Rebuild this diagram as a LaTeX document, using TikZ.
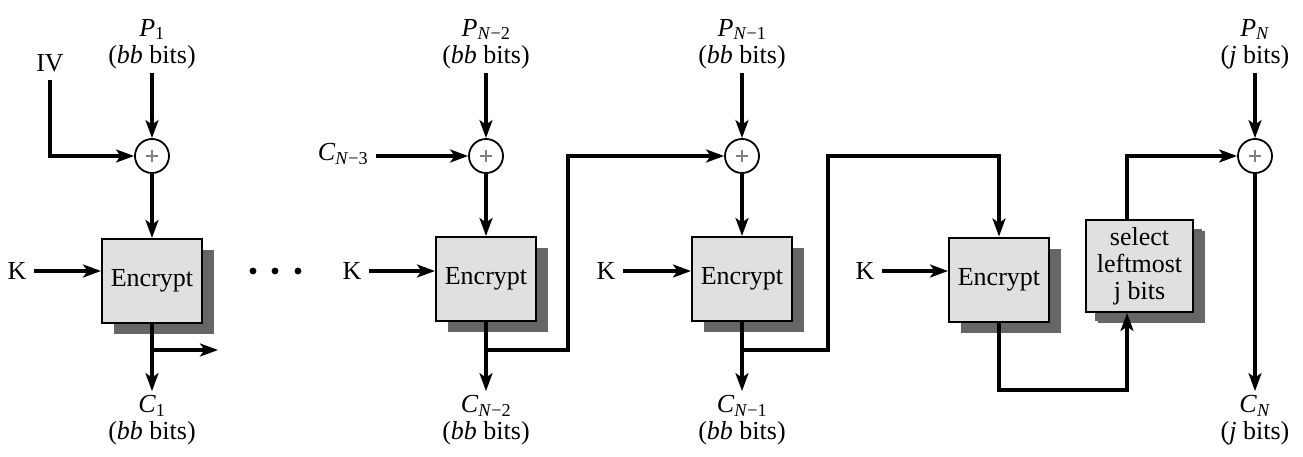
\documentclass[tikz,border=0pt]{standalone}
\usepackage{fontspec}
\setmainfont{Liberation Serif}
\usetikzlibrary{arrows.meta,shadows}
\definecolor{boxgray}{gray}{0.88}
\definecolor{shadowgray}{gray}{0.40}
\newcommand\lbl[2]{\textit{#1}\textsubscript{#2}}
\begin{document}
\begin{tikzpicture}[x=1pt,y=-1pt,
  font=\fontsize{26}{27}\selectfont,
  line width=3.1pt,
  arr/.style={-{Stealth[length=18pt,width=13pt,inset=4.5pt]}},
  encbox/.style={draw, line width=2pt, fill=boxgray, minimum width=100pt,
    minimum height=84pt, inner sep=0pt,
    drop shadow={shadow xshift=12pt, shadow yshift=-11pt, fill=shadowgray, opacity=1}},
  xorc/.style={circle, draw, line width=1.8pt, minimum size=34pt, inner sep=0pt,
    path picture={\draw[gray,line width=1.2pt]
      (path picture bounding box.center) +(-6pt,0pt) -- +(6pt,0pt)
      (path picture bounding box.center) +(0pt,-6pt) -- +(0pt,6pt);}},
  lab/.style={align=center, inner sep=0pt, outer sep=4pt},
  klab/.style={inner sep=0pt, outer sep=8pt},
]
\useasboundingbox (0,0) rectangle (1303,457);

% boxes
\node[encbox] (e1) at (152,281) {Encrypt};
\node[encbox] (e2) at (486,279) {Encrypt};
\node[encbox] (e3) at (742,279) {Encrypt};
\node[encbox] (e4) at (999,279.5) {Encrypt};
\node[encbox, minimum width=107pt, minimum height=92pt, align=center,
  drop shadow={shadow xshift=9pt, shadow yshift=-9pt, fill=shadowgray, opacity=1}]
  (sel) at (1139.5,266) {select\\leftmost\\j bits};

% xors
\node[xorc] (x1) at (152,156) {};
\node[xorc] (x2) at (486,156) {};
\node[xorc] (x3) at (742,156) {};
\node[xorc] (x4) at (1255,156) {};

% labels
\node[lab] (p1) at (152,44) {\lbl{P}{1}\\(\textit{bb} bits)};
\node[lab] (p2) at (486,44) {\lbl{P}{\textit{N}−2}\\(\textit{bb} bits)};
\node[lab] (p3) at (742,44) {\lbl{P}{\textit{N}−1}\\(\textit{bb} bits)};
\node[lab] (p4) at (1255,44) {\lbl{P}{\textit{N}}\\(\textit{j} bits)};
\node[lab] (c1) at (152,420) {\lbl{C}{1}\\(\textit{bb} bits)};
\node[lab] (c2) at (486,420) {\lbl{C}{\textit{N}−2}\\(\textit{bb} bits)};
\node[lab] (c3) at (742,420) {\lbl{C}{\textit{N}−1}\\(\textit{bb} bits)};
\node[lab] (c4) at (1255,420) {\lbl{C}{\textit{N}}\\(\textit{j} bits)};
\node[inner sep=0pt, outer sep=8pt] (iv) at (50,63) {IV};
\node[klab] (cn3) at (343,154) {\lbl{C}{\textit{N}−3}};
\node[klab] (k1) at (17,271) {K};
\node[klab] (k2) at (352,271) {K};
\node[klab] (k3) at (606,271) {K};
\node[klab] (k4) at (865,271) {K};

% dots
\fill (253,271) circle (3.4pt);
\fill (275,271) circle (3.4pt);
\fill (298,271) circle (3.4pt);

% coordinates
\coordinate (b1) at (152,350);
\coordinate (o1) at (218,350);
\coordinate (b2) at (486,350);
\coordinate (t2) at (568,156);
\coordinate (b3) at (742,350);
\coordinate (t3) at (828,156);
\coordinate (r4) at (1127,390);

% block 1
\draw[arr] (p1) -- (x1);
\draw[arr] (iv) |- (x1);
\draw[arr] (x1) -- (e1);
\draw[arr] (k1) -- (k1 -| e1.west);
\draw[arr] (e1) -- (c1);
\draw[arr] (b1) -- (o1);

% block 2
\draw[arr] (p2) -- (x2);
\draw[arr] (cn3.east |- x2) -- (x2);
\draw[arr] (x2) -- (e2);
\draw[arr] (k2) -- (k2 -| e2.west);
\draw[arr] (e2) -- (c2);
\draw[arr] (b2) -| (t2) -- (x3);

% block 3
\draw[arr] (p3) -- (x3);
\draw[arr] (x3) -- (e3);
\draw[arr] (k3) -- (k3 -| e3.west);
\draw[arr] (e3) -- (c3);
\draw[arr] (b3) -| (t3) -| (e4);

% block 4
\draw[arr] (k4) -- (k4 -| e4.west);
\draw[arr] (e4) |- (r4) -- (r4 |- sel.south);
\draw[arr] (sel.north -| r4) |- (x4);
\draw[arr] (p4) -- (x4);
\draw[arr] (x4) -- (c4);
\end{tikzpicture}
\end{document}
